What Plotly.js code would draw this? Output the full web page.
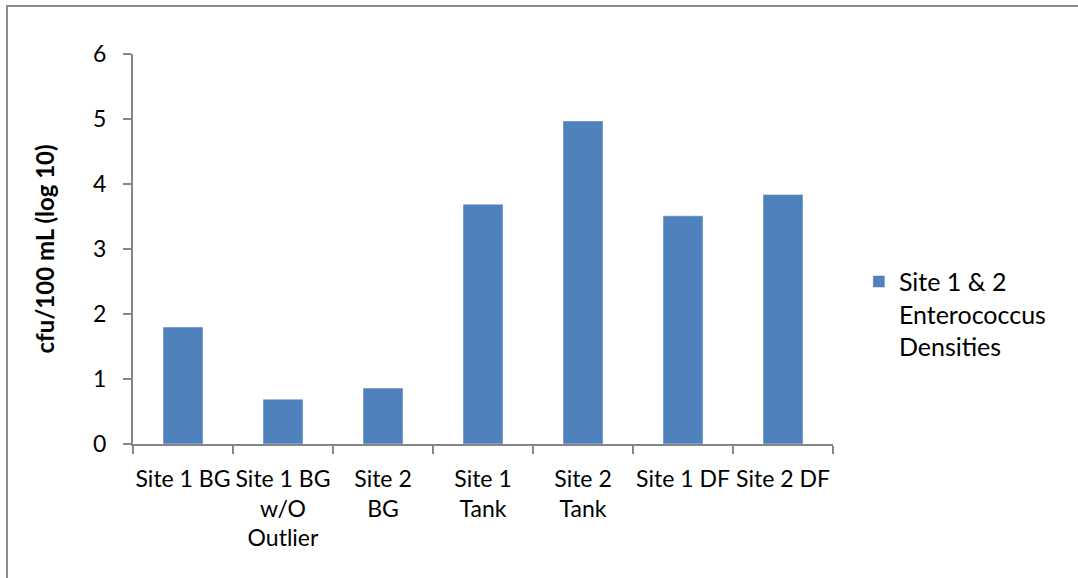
<!DOCTYPE html>
<html>
<head>
<meta charset="utf-8">
<script src="https://cdn.plot.ly/plotly-3.0.1.min.js"></script>
<style>
  html, body { margin: 0; padding: 0; background: #fff; overflow: hidden; }
  #chart { position: absolute; left: 0; top: 0; width: 1078px; height: 578px; }
  #frame {
    position: absolute; left: 6px; top: 5px; width: 1100px; height: 600px;
    border-left: 2px solid #8c8c8c; border-top: 2px solid #8c8c8c;
    pointer-events: none;
  }
</style>
</head>
<body>
<div id="chart"></div>
<div id="frame"></div>
<script>
// Enterococcus densities by sampling location (log10 cfu/100 mL)
const categories = [
  "Site 1 BG",
  "Site 1 BG<br>w/O<br>Outlier",
  "Site 2<br>BG",
  "Site 1<br>Tank",
  "Site 2<br>Tank",
  "Site 1 DF",
  "Site 2 DF"
];
const densities = [1.80, 0.69, 0.86, 3.69, 4.97, 3.51, 3.84];
const seriesName = "Site 1 & 2<br>Enterococcus<br>Densities";
const yTicks = [0, 1, 2, 3, 4, 5, 6];

const axisGray = "#868686";
const font = "Lato, 'Open Sans', sans-serif";
const fs = 23;

const trace = {
  type: "bar",
  x: categories,
  y: densities,
  name: seriesName,
  showlegend: true,
  marker: { color: "#4F81BD", line: { color: "rgba(255,255,255,0.45)", width: 1 } },
  hoverinfo: "x+y"
};

const layout = {
  width: 1078,
  height: 578,
  margin: { l: 133, r: 245, t: 54, b: 134 },
  paper_bgcolor: "#ffffff",
  plot_bgcolor: "#ffffff",
  font: { family: font, size: fs, color: "#000000" },
  bargap: 0.6,
  showlegend: true,
  legend: {
    x: 1.037, y: 0.475, xanchor: "left", yanchor: "top",
    valign: "top",
    font: { family: font, size: 25, color: "#000" },
    tracegroupgap: 0
  },
  xaxis: {
    type: "category",
    showline: true, linecolor: axisGray, linewidth: 2,
    ticks: "outside", tickson: "boundaries", ticklen: 8, tickcolor: axisGray, tickwidth: 2,
    ticklabelstandoff: 13,
    showgrid: false, zeroline: false,
    tickfont: { family: font, size: fs, color: "#000" },
    tickangle: 0
  },
  yaxis: {
    range: [0, 6],
    tickvals: yTicks,
    ticktext: yTicks.map(String),
    showline: true, linecolor: axisGray, linewidth: 2,
    ticks: "outside", ticklen: 8, tickcolor: axisGray, tickwidth: 2,
    ticklabelstandoff: 12,
    showgrid: false, zeroline: false,
    tickfont: { family: font, size: fs, color: "#000" },
    title: { text: "<b>cfu/100 mL (log 10)</b>", font: { family: font, size: 24, color: "#000" }, standoff: 32 }
  }
};

Plotly.newPlot("chart", [trace], layout, { displayModeBar: false, staticPlot: true });
</script>
</body>
</html>
